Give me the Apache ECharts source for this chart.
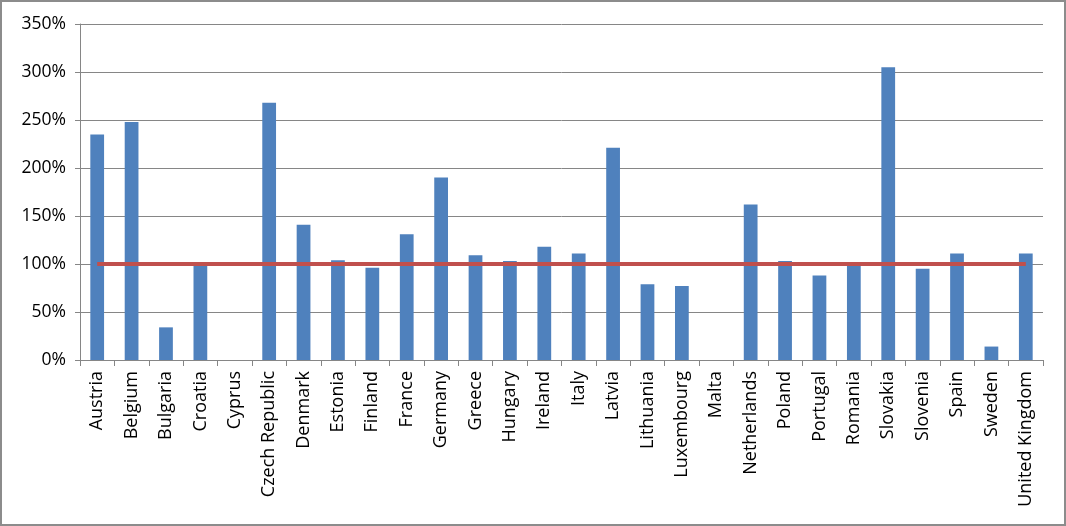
<!DOCTYPE html>
<html>
<head>
<meta charset="utf-8">
<script src="https://cdn.jsdelivr.net/npm/echarts@6/dist/echarts.min.js"></script>
<style>
  html, body { margin: 0; padding: 0; background: #fff; }
  #chart { width: 1066px; height: 526px; box-sizing: border-box; border: 2px solid #8c8c8c; }
</style>
</head>
<body>
<div id="chart"></div>
<script>
  const countries = ['Austria', 'Belgium', 'Bulgaria', 'Croatia', 'Cyprus', 'Czech Republic', 'Denmark',
    'Estonia', 'Finland', 'France', 'Germany', 'Greece', 'Hungary', 'Ireland', 'Italy', 'Latvia',
    'Lithuania', 'Luxembourg', 'Malta', 'Netherlands', 'Poland', 'Portugal', 'Romania', 'Slovakia',
    'Slovenia', 'Spain', 'Sweden', 'United Kingdom']
  // percent values
  const ratio = [235, 248, 34, 100, 0, 268, 141, 104, 96, 131, 190, 109, 103, 118, 111, 221,
    79, 77, 0, 162, 103, 88, 100, 305, 95, 111, 14, 111]
  const target = [100, 100, 100, 100, 100, 100, 100, 100, 100, 100, 100, 100, 100, 100, 100, 100,
    100, 100, 100, 100, 100, 100, 100, 100, 100, 100, 100, 100]

  const font = '"Open Sans", sans-serif'
  let chart = echarts.init(document.getElementById('chart'))
  chart.setOption({
    animation: false,
    grid: { left: 78, right: 21, top: 22, bottom: 164, containLabel: false },
    xAxis: {
      type: 'category',
      data: countries,
      axisLine: { lineStyle: { color: '#868686', width: 1 } },
      axisTick: { show: true, length: 6, lineStyle: { color: '#868686' } },
      axisLabel: { rotate: 90, interval: 0, color: '#000', fontSize: 18, fontFamily: font, margin: 11 }
    },
    yAxis: {
      type: 'value',
      min: 0,
      max: 350,
      interval: 50,
      axisLine: { show: true, lineStyle: { color: '#868686' } },
      axisTick: { show: true, length: 5, lineStyle: { color: '#868686' } },
      splitLine: { lineStyle: { color: '#868686', width: 1 } },
      axisLabel: { formatter: '{value}%', color: '#000', fontSize: 17.5, fontFamily: font, margin: 14 }
    },
    series: [{
      type: 'bar',
      data: ratio,
      barWidth: '40%',
      itemStyle: { color: '#4f81bd' }
    }, {
      type: 'line',
      data: target,
      symbol: 'none',
      lineStyle: { color: '#c0504d', width: 4 },
      z: 3
    }]
  })
</script>
</body>
</html>
